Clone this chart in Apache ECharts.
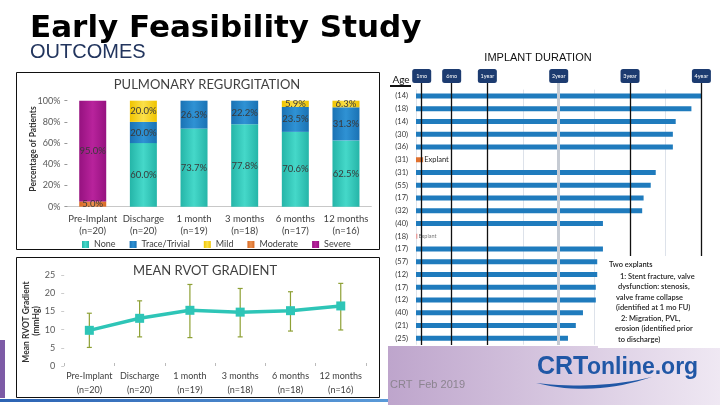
<!DOCTYPE html>
<html><head><meta charset="utf-8">
<script src="https://cdn.jsdelivr.net/npm/echarts@6.0.0/dist/echarts.min.js"></script>
<style>html,body{margin:0;padding:0;background:#fff}#c{width:720px;height:405px}</style>
</head><body><div id="c"></div>
<script>
// ---------- data ----------
const regCategories = ['Pre-Implant\n(n=20)','Discharge\n(n=20)','1 month\n(n=19)','3 months\n(n=18)','6 months\n(n=17)','12 months\n(n=16)'];
const regNone     = [0, 60.0, 73.7, 77.8, 70.6, 62.5];
const regTrace    = [0, 20.0, 26.3, 22.2, 23.5, 31.3];
const regMild     = [0, 20.0, 0, 0, 5.9, 6.3];
const regModerate = [5.0, 0, 0, 0, 0, 0];
const regSevere   = [95.0, 0, 0, 0, 0, 0];
const regYTicks   = [0, 20, 40, 60, 80, 100];

const rvotCategories = ['Pre-Implant\n(n=20)','Discharge\n(n=20)','1 month\n(n=19)','3 months\n(n=18)','6 months\n(n=18)','12 months\n(n=16)'];
const rvotMean = [9.8, 13.1, 15.3, 14.8, 15.2, 16.5];
const rvotLow  = [5.1, 8.0, 7.8, 8.0, 9.6, 9.9];
const rvotHigh = [14.5, 17.9, 22.4, 21.3, 20.4, 22.7];

const durAges    = ['(14)','(18)','(14)','(30)','(36)','(31)','(31)','(55)','(17)','(32)','(40)','(18)','(17)','(57)','(12)','(17)','(12)','(40)','(21)','(25)'];
const durYears   = [4.06, 3.86, 3.64, 3.60, 3.60, 0.10, 3.36, 3.29, 3.19, 3.17, 2.62, 0.02, 2.62, 2.54, 2.54, 2.52, 2.52, 2.34, 2.24, 2.13];
const durExplant = [false,false,false,false,false,true,false,false,false,false,false,true,false,false,false,false,false,false,false,false];
const durMarkerYears  = [0.083, 0.5, 1, 2, 3, 4];
const durMarkerLabels = ['1mo','6mo','1year','2year','3year','4year'];
const explantNote = ['Two explants','1: Stent fracture, valve','dysfunction: stenosis,','valve frame collapse','(identified at 1 mo FU)','2: Migration, PVL,','erosion (identified prior','to discharge)'];

// ---------- chart ----------
const chart = echarts.init(document.getElementById('c'), null, {renderer:'canvas'});
const F = 'Lato, "Noto Sans", sans-serif';
function grad(c1, c2){
  return new echarts.graphic.LinearGradient(0,0,1,0,[{offset:0,color:c1},{offset:0.5,color:c2},{offset:1,color:c1}]);
}
const regColors = {
  'None': grad('#25b5a8','#45d8c9'),
  'Trace/Trivial': grad('#1a72b4','#2f92d4'),
  'Mild': grad('#f0c400','#fbe04a'),
  'Moderate': grad('#d86a25','#ec9250'),
  'Severe': grad('#961280','#b8239c')
};
function regSeries(name, data){
  return {
    name, type:'bar', stack:'reg', xAxisIndex:0, yAxisIndex:0, barWidth:27,
    data, itemStyle:{color:regColors[name]},
    label:{show:true, position:'inside', fontFamily:F, fontSize:9.5, color:'#3a3a3a',
      formatter:p => p.value > 0 ? p.value.toFixed(1) + '%' : ''},
    emphasis:{disabled:true}
  };
}

const noteTexts = explantNote.map((t,i) => ({
  type:'text', z:101,
  style:{text:t, x:[609,620,618,616,616,621,615,618][i], y:[265,276.5,287,297.5,307.5,319,329,339.5][i],
    textVerticalAlign:'middle', font:'600 7.5px ' + F, fill:'#222'}
}));

// logo swoosh outline (decoration)
function quad(p0, p1, p2, n){
  const pts = [];
  for (let k = 0; k <= n; k++){
    const t = k / n, a = (1-t)*(1-t), b = 2*t*(1-t), c = t*t;
    pts.push([a*p0[0]+b*p1[0]+c*p2[0], a*p0[1]+b*p1[1]+c*p2[1]]);
  }
  return pts;
}
const swoosh = quad([536,383],[592,397],[652,377],16).concat(quad([652,377],[596,390],[536,383],16));

const option = {
  animation:false,
  backgroundColor:'#fff',
  grid:[
    {left:67.4, right:348.7, top:100.7, bottom:198.3, outerBoundsMode:'none'},
    {left:64.2, right:354.1, top:275, bottom:39, outerBoundsMode:'none'},
    {left:416, right:18.6, top:89.6, bottom:60.3, outerBoundsMode:'none'},
    {left:416, right:18.6, top:83, bottom:60, outerBoundsMode:'none'}
  ],
  legend:{
    data:['None','Trace/Trivial','Mild','Moderate','Severe'],
    left:77, top:235, itemWidth:7, itemHeight:7, itemGap:14, icon:'rect',
    textStyle:{fontFamily:F, fontSize:9, color:'#404040'},
    selectedMode:false
  },
  xAxis:[
    {gridIndex:0, type:'category', data:regCategories,
      axisLine:{lineStyle:{color:'#c8c8c8'}}, axisTick:{show:false},
      axisLabel:{interval:0, fontFamily:F, fontSize:9.5, lineHeight:12, color:'#404040', margin:6}},
    {gridIndex:1, type:'category', data:rvotCategories,
      axisLine:{show:false}, axisTick:{show:true, inside:true, length:3, lineStyle:{color:'#bbb'}},
      axisLabel:{interval:0, fontFamily:F, fontSize:9, lineHeight:14, color:'#404040', margin:3}},
    {gridIndex:2, type:'value', min:0, max:4, interval:0.5,
      axisLine:{show:false}, axisTick:{show:false}, axisLabel:{show:false},
      splitLine:{show:true, lineStyle:{color:'#dde2ea', width:1}}},
    {gridIndex:3, type:'value', min:0, max:4, show:false}
  ],
  yAxis:[
    {gridIndex:0, type:'value', min:regYTicks[0], max:regYTicks[regYTicks.length-1], interval:regYTicks[1]-regYTicks[0],
      axisLine:{show:false}, axisTick:{show:true, length:3, lineStyle:{color:'#999'}},
      splitLine:{show:false},
      axisLabel:{fontFamily:F, fontSize:9, color:'#595959', margin:7, formatter:'{value}%'}},
    {gridIndex:1, type:'value', min:0, max:25, interval:5,
      axisLine:{show:false}, axisTick:{show:true, length:3, lineStyle:{color:'#ccc'}},
      splitLine:{show:false},
      axisLabel:{fontFamily:F, fontSize:9, color:'#595959', margin:9}},
    {gridIndex:2, type:'category', data:durAges, inverse:true,
      axisLine:{show:false}, axisTick:{show:false},
      axisLabel:{interval:0, fontFamily:F, fontSize:7.5, color:'#333', margin:8}},
    {gridIndex:3, type:'value', min:0, max:1, show:false}
  ],
  series:[
    regSeries('None', regNone),
    regSeries('Trace/Trivial', regTrace),
    regSeries('Mild', regMild),
    regSeries('Moderate', regModerate),
    regSeries('Severe', regSevere),
    {
      name:'errors', type:'custom', xAxisIndex:1, yAxisIndex:1, z:3,
      data: rvotLow.map((l,i) => [i, l, rvotHigh[i]]),
      encode:{x:0, y:[1,2]},
      renderItem:(params, api) => {
        const x = api.value(0);
        const top = api.coord([x, api.value(2)]);
        const bot = api.coord([x, api.value(1)]);
        const w = 2.5, st = {stroke:'#8ea035', lineWidth:1.2};
        return {type:'group', children:[
          {type:'line', shape:{x1:top[0], y1:top[1], x2:bot[0], y2:bot[1]}, style:st},
          {type:'line', shape:{x1:top[0]-w, y1:top[1], x2:top[0]+w, y2:top[1]}, style:st},
          {type:'line', shape:{x1:bot[0]-w, y1:bot[1], x2:bot[0]+w, y2:bot[1]}, style:st}
        ]};
      }
    },
    {
      name:'Mean RVOT', type:'line', xAxisIndex:1, yAxisIndex:1, z:5,
      data:rvotMean, symbol:'rect', symbolSize:9,
      itemStyle:{color:'#2ec5b7'}, lineStyle:{color:'#2ec5b7', width:3.5}
    },
    {
      name:'Duration', type:'bar', xAxisIndex:2, yAxisIndex:2, barWidth:5,
      itemStyle:{color:'#1f7bbd'},
      data: durYears.map((v,i) => durExplant[i] ? {
        value:v,
        itemStyle:{color: v > 0.05 ? '#e0712f' : '#e8a09e'},
        label:{show:true, position:'right', distance:1, formatter:'Explant', fontFamily:F,
          fontSize: v > 0.05 ? 7.5 : 5.5, color: v > 0.05 ? '#222' : '#777'}
      } : v)
    },
    {
      name:'markers', type:'scatter', xAxisIndex:3, yAxisIndex:3, symbolSize:0, data:[[0,0]], silent:true,
      markLine:{
        silent:true, symbol:['none','none'], animation:false,
        lineStyle:{color:'#111', width:1.3, type:'solid'},
        label:{show:true, position:'end', distance:0, backgroundColor:'#1c3b70', color:'#fff',
          fontFamily:F, fontSize:5.5, width:19, height:14, lineHeight:14, align:'center', borderRadius:2.5},
        data: durMarkerYears.map((v,i) => ({
          xAxis:v, label:{formatter:durMarkerLabels[i]},
          lineStyle: v === 2 ? {color:'#c6cbd3', width:3, type:'solid'} : {color:'#111', width:1.3, type:'solid'}
        }))
      }
    }
  ],
  graphic:[
    {type:'text', style:{text:'Early Feasibility Study', x:30, y:29, textVerticalAlign:'middle',
      font:'bold 31px "DejaVu Sans", sans-serif', fill:'#000'}},
    {type:'text', style:{text:'OUTCOMES', x:30, y:52, textVerticalAlign:'middle',
      font:'20px "Liberation Sans", Arial, sans-serif', fill:'#22355e'}},
    {type:'text', style:{text:'IMPLANT DURATION', x:538, y:58, textAlign:'center', textVerticalAlign:'middle',
      font:'11px "Liberation Sans", Arial, sans-serif', fill:'#111'}},
    {type:'rect', shape:{x:16.5, y:72.5, width:363, height:177}, style:{fill:'none', stroke:'#111', lineWidth:1}},
    {type:'rect', shape:{x:16.5, y:257.5, width:363, height:140}, style:{fill:'none', stroke:'#111', lineWidth:1}},
    {type:'text', style:{text:'PULMONARY REGURGITATION', x:207, y:85, textAlign:'center', textVerticalAlign:'middle',
      font:'13px ' + F, fill:'#404040'}},
    {type:'text', style:{text:'MEAN RVOT GRADIENT', x:205, y:271, textAlign:'center', textVerticalAlign:'middle',
      font:'13px ' + F, fill:'#404040'}},
    {type:'text', x:33.5, y:149, rotation:Math.PI/2, style:{text:'Percentage of Patients', x:0, y:0,
      textAlign:'center', textVerticalAlign:'middle', font:'bold 8.5px ' + F, fill:'#333'}},
    {type:'text', x:26.5, y:322, rotation:Math.PI/2, style:{text:'Mean RVOT Gradient', x:0, y:0,
      textAlign:'center', textVerticalAlign:'middle', font:'bold 8.5px ' + F, fill:'#333'}},
    {type:'text', x:36.5, y:321, rotation:Math.PI/2, style:{text:'(mmHg)', x:0, y:0,
      textAlign:'center', textVerticalAlign:'middle', font:'bold 8.5px ' + F, fill:'#333'}},
    {type:'text', style:{text:'Age', x:401, y:80, textAlign:'center', textVerticalAlign:'middle', font:'10px ' + F, fill:'#111'}},
    {type:'rect', shape:{x:390, y:85, width:21, height:2}, style:{fill:'#111'}},
    {type:'rect', shape:{x:0, y:340, width:5, height:58}, style:{fill:'#7d5ba6'}},
    {type:'rect', shape:{x:0, y:399, width:388, height:3},
      style:{fill:new echarts.graphic.LinearGradient(0,0,1,0,[{offset:0,color:'#2c63b3'},{offset:1,color:'#5a9ad8'}])}},
    {type:'rect', z:90, shape:{x:388, y:346, width:332, height:59},
      style:{fill:new echarts.graphic.LinearGradient(0,0,1,0,[{offset:0,color:'#bea5cc'},{offset:1,color:'#efe8f3'}])}},
    {type:'text', z:91, style:{text:'CRT  Feb 2019', x:390, y:385, textVerticalAlign:'middle',
      font:'11px "Liberation Sans", Arial, sans-serif', fill:'#8c8490'}},
    {type:'text', z:91, style:{text:'CRT', x:537, y:380, textVerticalAlign:'bottom',
      font:'bold 25px "Liberation Sans", Arial, sans-serif', fill:'#2057a6'}},
    {type:'text', z:91, style:{text:'online.org', x:587, y:379, textVerticalAlign:'bottom',
      font:'bold 23px "Liberation Sans", Arial, sans-serif', fill:'#2057a6'}},
    {type:'polygon', z:91, shape:{points:swoosh}, style:{fill:'#2057a6'}},
    {type:'rect', z:100, shape:{x:598, y:256, width:122, height:92}, style:{fill:'#fff'}}
  ].concat(noteTexts)
};
chart.setOption(option);
</script>
</body></html>
